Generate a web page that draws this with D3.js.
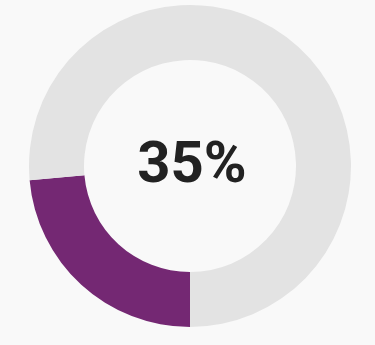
<!DOCTYPE html>
<html>
<head>
<meta charset="utf-8">
<script src="https://cdn.jsdelivr.net/npm/d3@7"></script>
<style>
  html, body { margin: 0; padding: 0; background: #f9f9f9; }
  #chart { width: 375px; height: 345px; }
  .centerTxt { font-family: Roboto, "Liberation Sans", sans-serif; font-weight: 700; fill: #222; }
</style>
</head>
<body>
<div id="chart"></div>
<script>
// segments as read from the ring (share of full circle), and the centre label
var segmentNames = ["filled", "rest"];
var segmentValues = [23.6, 76.4];
var segmentColors = ["#742873", "#e3e3e3"];
var labelValue = 35;

(function () {
  'use strict'

  var width = 375, height = 345;
  var cx = 190, cy = 166;
  var outerR = 161, innerR = 106;

  var svg = d3.select("#chart").append("svg")
    .attr("width", width)
    .attr("height", height);

  var g = svg.append("g")
    .attr("transform", "translate(" + cx + "," + cy + ")");

  var pie = d3.pie()
    .sort(null)
    .startAngle(Math.PI)
    .endAngle(Math.PI * 3)
    .value(function(d) { return d; });

  var arc = d3.arc().innerRadius(innerR).outerRadius(outerR);

  g.selectAll("path")
    .data(pie(segmentValues))
    .enter().append("path")
    .attr("d", arc)
    .attr("fill", function(d, i) { return segmentColors[i]; });

  g.append("text")
    .attr("class", "centerTxt")
    .attr("x", 2)
    .attr("y", 16)
    .attr("text-anchor", "middle")
    .style("font-size", "58px")
    .text(labelValue + "%");
})()
</script>
</body>
</html>
